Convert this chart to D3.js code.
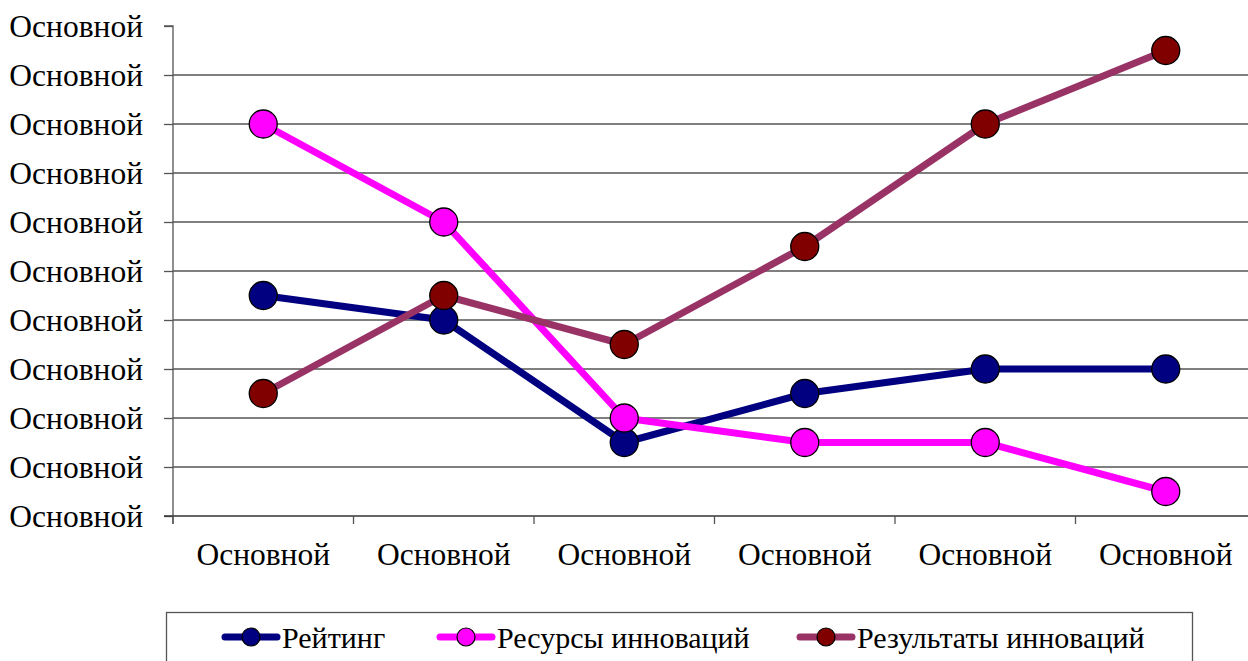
<!DOCTYPE html>
<html>
<head>
<script src="https://cdn.jsdelivr.net/npm/d3@7"></script>
</head>
<body style="margin:0">
<svg id="chart" width="1248" height="661" font-family="Liberation Serif" style="font-family: 'Liberation Serif'"></svg>
<script>
// Category labels along the x axis and value-axis tick labels
const categories = ["c1", "c2", "c3", "c4", "c5", "c6"];
const categoryLabels = ["Основной", "Основной", "Основной", "Основной", "Основной", "Основной"];
const yTicks = [0, 1, 2, 3, 4, 5, 6, 7, 8, 9, 10];
const yTickLabels = ["Основной", "Основной", "Основной", "Основной", "Основной", "Основной",
                     "Основной", "Основной", "Основной", "Основной", "Основной"];

// Series values
const rating    = [4.5, 4.0, 1.5, 2.5, 3.0, 3.0];
const resources = [8.0, 6.0, 2.0, 1.5, 1.5, 0.5];
const results   = [2.5, 4.5, 3.5, 5.5, 8.0, 9.5];

const seriesNames = ["Рейтинг", "Ресурсы инноваций", "Результаты инноваций"];

const series = [
  { name: seriesNames[0], values: rating,    line: "#000080", fill: "#000080" },
  { name: seriesNames[1], values: resources, line: "#FF00FF", fill: "#FF00FF" },
  { name: seriesNames[2], values: results,   line: "#993366", fill: "#800000" }
];

const FONT = '"Liberation Serif"';
const svg = d3.select("#chart");
const plotLeft = 173, plotRight = 1256, plotTop = 26, plotBottom = 516;

const x = d3.scaleBand().domain(categories).range([plotLeft, plotRight]).padding(0);
const y = d3.scaleLinear().domain([0, 10]).range([plotBottom, plotTop]);

// Horizontal gridlines
svg.append("g")
  .selectAll("line")
  .data(yTicks.filter(t => t > 0 && t < 10))
  .join("line")
  .attr("x1", plotLeft).attr("x2", plotRight)
  .attr("y1", d => y(d)).attr("y2", d => y(d))
  .attr("stroke", "#555").attr("stroke-width", 1.3);

// Value axis
const yAxis = d3.axisLeft(y)
  .tickValues(yTicks)
  .tickSize(9)
  .tickPadding(21)
  .tickFormat((d, i) => yTickLabels[i]);

const gy = svg.append("g").attr("transform", `translate(${plotLeft},0)`).call(yAxis);
gy.attr("font-family", "Liberation Serif").attr("font-size", 31.5);
gy.select(".domain").attr("stroke", "#555").attr("stroke-width", 1.3).attr("d", `M-9,${plotTop}H0V${plotBottom + 8}`);
gy.selectAll(".tick line").attr("stroke", "#555").attr("stroke-width", 1.3);
gy.selectAll(".tick text")
  .style("font-family", FONT)
  .style("font-size", "31.5px")
  .attr("dy", "0.34em")
  .attr("fill", "#000");

// Category axis
const xAxis = d3.axisBottom(x)
  .tickSize(0)
  .tickPadding(27)
  .tickFormat((d, i) => categoryLabels[i]);

const gx = svg.append("g").attr("transform", `translate(0,${plotBottom})`).call(xAxis);
gx.attr("font-family", "Liberation Serif").attr("font-size", 31.5);
gx.select(".domain").attr("stroke", "#333").attr("stroke-width", 1.5).attr("d", `M${plotLeft - 9},0H${plotRight}`);
gx.selectAll(".tick text")
  .style("font-family", FONT)
  .style("font-size", "31.5px")
  .attr("fill", "#000");

// Tick marks at category boundaries
svg.append("g")
  .selectAll("line")
  .data(categories)
  .join("line")
  .attr("x1", d => x(d)).attr("x2", d => x(d))
  .attr("y1", plotBottom).attr("y2", plotBottom + 8)
  .attr("stroke", "#555").attr("stroke-width", 1.3);

// Lines and markers
const lineGen = d3.line()
  .x((d, i) => x(categories[i]) + x.bandwidth() / 2)
  .y(d => y(d));

const gSeries = svg.append("g");
series.forEach(s => {
  gSeries.append("path")
    .datum(s.values)
    .attr("d", lineGen)
    .attr("fill", "none")
    .attr("stroke", s.line)
    .attr("stroke-width", 7)
    .attr("stroke-linejoin", "round");
});
series.forEach(s => {
  gSeries.append("g")
    .selectAll("circle")
    .data(s.values)
    .join("circle")
    .attr("cx", (d, i) => x(categories[i]) + x.bandwidth() / 2)
    .attr("cy", d => y(d))
    .attr("r", 14)
    .attr("fill", s.fill)
    .attr("stroke", "#000")
    .attr("stroke-width", 1.3);
});

// Legend
const legend = svg.append("g").attr("font-family", "Liberation Serif");
legend.append("rect")
  .attr("x", 166.5).attr("y", 612.5)
  .attr("width", 1026).attr("height", 60)
  .attr("fill", "#fff").attr("stroke", "#555").attr("stroke-width", 1.3);

const legendX = [222, 437, 797];
const ly = 637;
series.forEach((s, i) => {
  const g = legend.append("g").attr("transform", `translate(${legendX[i]},${ly})`);
  g.append("line")
    .attr("x1", 3).attr("x2", 55).attr("y1", 0).attr("y2", 0)
    .attr("stroke", s.line).attr("stroke-width", 7).attr("stroke-linecap", "round");
  g.append("circle")
    .attr("cx", 29).attr("cy", 0).attr("r", 9)
    .attr("fill", s.fill).attr("stroke", "#000").attr("stroke-width", 1.2);
  g.append("text")
    .attr("x", 60).attr("y", 11)
    .style("font-family", FONT)
    .style("font-size", "30px")
    .attr("fill", "#000")
    .text(s.name);
});
</script>
</body>
</html>
